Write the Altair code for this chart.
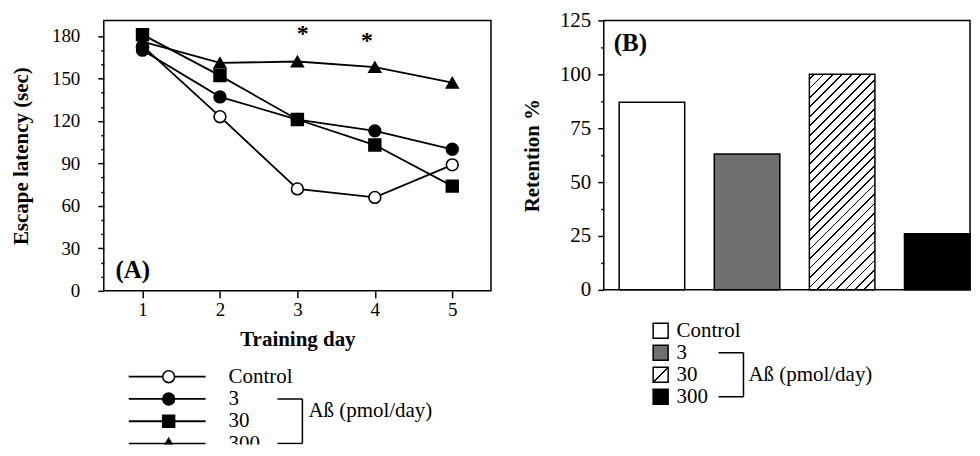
import altair as alt
import pandas as pd

# ---------------- data ----------------
days = [1, 2, 3, 4, 5]
groups = ["Control", "3", "30", "300"]
latency_control = [173, 123, 72, 66, 89]
latency_3 = [170, 137, 121, 113, 100]
latency_30 = [181, 152, 121, 103, 74]
latency_300 = [176, 161, 162, 158, 147]
star_days = [3.07, 3.9]
star_values = [181, 176]

retention = [87, 63, 100, 26]

legend_note = "Aß (pmol/day)"
FONT = "Liberation Serif"

# ---------------- tables ----------------
rowsA = []
for g, vals in zip(groups, [latency_control, latency_3, latency_30, latency_300]):
    for d, v in zip(days, vals):
        rowsA.append({"group": g, "day": d, "latency": v})
dfA = pd.DataFrame(rowsA)
dfStars = pd.DataFrame({"day": star_days, "latency": star_values, "t": ["*", "*"]})
dfLabelA = pd.DataFrame({"day": [0.65], "latency": [15], "t": ["(A)"]})
dfB = pd.DataFrame({"group": groups, "retention": retention})
dfLeg = pd.DataFrame({"group": groups})
dfBracket = pd.DataFrame({"start": ["3"], "end": ["300"]})

# ---------------- panel A ----------------
WA, HA = 388, 271
xA = alt.X("day:Q", scale=alt.Scale(domain=[0.5, 5.5], nice=False, zero=False),
           axis=alt.Axis(values=days, format="d", title="Training day", grid=False, domain=False,
                         tickSize=7, tickWidth=1.5, labelFontSize=19, labelPadding=3,
                         titleFontSize=21, titleFontWeight="bold", titlePadding=9,
                         labelAngle=0))
yA = alt.Y("latency:Q", scale=alt.Scale(domain=[0, 191], nice=False),
           axis=alt.Axis(values=list(range(0, 181, 10)),
                         labelExpr="datum.value % 30 === 0 ? datum.label : ''",
                         labelOverlap=False,
                         tickSize={"condition": {"test": "datum.value % 30 === 0", "value": 6}, "value": 3},
                         tickWidth=1.5, grid=False, domain=False, labelFontSize=19,
                         labelPadding=18, title="Escape latency (sec)", titleFontSize=21,
                         titleFontWeight="bold", titlePadding=20))

shape_scale = alt.Scale(domain=groups, range=["circle", "circle", "square", "triangle-up"])
fill_scale = alt.Scale(domain=groups, range=["white", "black", "black", "black"])
size_scale = alt.Scale(domain=groups, range=[140, 140, 150, 190])

linesA = alt.Chart(dfA).mark_line(color="black", strokeWidth=1.8).encode(
    x=xA, y=yA, detail="group:N", order="day:Q")
pointsA = alt.Chart(dfA).mark_point(stroke="black", strokeWidth=1.6, opacity=1, fillOpacity=1).encode(
    x=xA, y=yA,
    shape=alt.Shape("group:N", scale=shape_scale, legend=None),
    fill=alt.Fill("group:N", scale=fill_scale, legend=None),
    size=alt.Size("group:O", scale=size_scale, legend=None))
starsA = alt.Chart(dfStars).mark_text(fontSize=24, fontWeight="bold", color="black", dy=-0.5).encode(
    x=xA, y=yA, text="t:N")
labelA = alt.Chart(dfLabelA).mark_text(fontSize=25, fontWeight="bold", color="black",
                                       align="left", baseline="middle").encode(
    x=xA, y=yA, text="t:N")
panelA = alt.layer(linesA, pointsA, starsA, labelA).properties(width=WA, height=HA)

# ---------------- legend A ----------------
scaleLegA = alt.Scale(type="point", domain=groups, range=[12, 79], padding=0)
yLegA = alt.Y("group:N", sort=groups, scale=scaleLegA, axis=None)
legA_line = alt.Chart(dfLeg).mark_rule(color="black", strokeWidth=1.8, clip=True).encode(
    x=alt.value(25), x2=alt.value(102), y=yLegA)
legA_pts = alt.Chart(dfLeg).mark_point(stroke="black", strokeWidth=1.6, opacity=1,
                                       fillOpacity=1, clip=True).encode(
    x=alt.value(65), y=yLegA,
    shape=alt.Shape("group:N", scale=shape_scale, legend=None),
    fill=alt.Fill("group:N", scale=fill_scale, legend=None),
    size=alt.Size("group:O", scale=size_scale, legend=None))
legA_text = alt.Chart(dfLeg).mark_text(align="left", baseline="middle", fontSize=21,
                                       color="black", clip=True).encode(
    x=alt.value(125), y=yLegA, text="group:N")
legA_h = alt.Chart(dfLeg).transform_filter("datum.group === '3' || datum.group === '300'").mark_rule(
    color="black", strokeWidth=1.5, clip=True).encode(x=alt.value(174), x2=alt.value(199), y=yLegA)
legA_v = alt.Chart(dfBracket).mark_rule(color="black", strokeWidth=1.5, clip=True).encode(
    x=alt.value(199),
    y=alt.Y("start:N", scale=scaleLegA, axis=None),
    y2="end:N")
legA_note = alt.Chart(dfLeg).transform_filter("datum.group === '3'").mark_text(
    align="left", baseline="middle", fontSize=21, color="black", dy=12, clip=True).encode(
    x=alt.value(205), y=yLegA, text=alt.value(legend_note))
legendA = alt.layer(legA_line, legA_pts, legA_text, legA_h, legA_v, legA_note).properties(
    width=345, height=80, view=alt.ViewBackground(stroke=None))

# ---------------- panel B ----------------
WB, HB = 367, 270
PI, PO = 0.311, 0.081
bar_colors = ["white", "#707070", "black"]
xB = alt.X("group:N", sort=groups,
           scale=alt.Scale(domain=groups, paddingInner=PI, paddingOuter=PO, align=1), axis=None)
yB = alt.Y("retention:Q", scale=alt.Scale(domain=[0, 125], nice=False),
           axis=alt.Axis(values=[v * 12.5 for v in range(11)],
                         labelExpr="datum.value % 25 === 0 ? datum.label : ''",
                         labelOverlap=False,
                         tickSize={"condition": {"test": "datum.value % 25 === 0", "value": 6}, "value": 3},
                         tickWidth=1.5, grid=False, domain=False, labelFontSize=21,
                         labelPadding=7, title="Retention %", titleFontSize=21,
                         titleFontWeight="bold", titlePadding=17))


def hatch(w, h, spacing, lw):
    r = w / h
    k = (r + 1) / (r * r + 1)
    total = w + h
    stops = [alt.GradientStop(offset=0, color="white")]
    c = spacing / 2
    while c < total:
        a = max(0.0, (c - lw / 2) / total)
        b = min(1.0, (c + lw / 2) / total)
        stops += [alt.GradientStop(offset=a, color="white"),
                  alt.GradientStop(offset=a, color="black"),
                  alt.GradientStop(offset=b, color="black"),
                  alt.GradientStop(offset=b, color="white")]
        c += spacing
    stops.append(alt.GradientStop(offset=1, color="white"))
    return alt.Gradient(gradient="linear", stops=stops, x1=0, y1=0, x2=k * r, y2=k)


step = WB / (len(groups) - PI + 2 * PO)
bw = step * (1 - PI)
h30 = retention[2] / 125 * HB

barsB = alt.Chart(dfB).transform_filter("datum.group !== '30'").mark_bar(
    stroke="black", strokeWidth=1.5).encode(
    x=xB, y=yB,
    fill=alt.Fill("group:N", scale=alt.Scale(domain=["Control", "3", "300"],
                                             range=bar_colors), legend=None))
bar30 = alt.Chart(dfB).transform_filter("datum.group === '30'").mark_bar(
    stroke="black", strokeWidth=1.5, fill=hatch(bw, h30, 9.5, 1.8)).encode(
    x=xB, y=yB)
labelB = alt.Chart(pd.DataFrame({"t": ["(B)"]})).mark_text(
    fontSize=25, fontWeight="bold", color="black", align="left", baseline="middle").encode(
    x=alt.value(10), y=alt.value(23), text="t:N")
panelB = alt.layer(barsB, bar30, labelB).properties(width=WB, height=HB)

# ---------------- legend B ----------------
scaleLegB = alt.Scale(type="point", domain=groups, range=[15, 81], padding=0)
yLegB = alt.Y("group:N", sort=groups, scale=scaleLegB, axis=None)
legB_sw = alt.Chart(dfLeg).transform_filter("datum.group !== '30'").mark_square(
    size=225, stroke="black", strokeWidth=1.5, opacity=1, fillOpacity=1, clip=True).encode(
    x=alt.value(57), y=yLegB,
    fill=alt.Fill("group:N", scale=alt.Scale(domain=["Control", "3", "300"],
                                             range=bar_colors), legend=None))
legB_sw30 = alt.Chart(dfLeg).transform_filter("datum.group === '30'").mark_square(
    size=225, stroke="black", strokeWidth=1.5, opacity=1, fill=hatch(15, 15, 30, 2.4), clip=True).encode(
    x=alt.value(57), y=yLegB)
legB_text = alt.Chart(dfLeg).mark_text(align="left", baseline="middle", fontSize=21,
                                       color="black", clip=True).encode(
    x=alt.value(73), y=yLegB, text="group:N")
legB_h = alt.Chart(dfLeg).transform_filter("datum.group === '3' || datum.group === '300'").mark_rule(
    color="black", strokeWidth=1.5, clip=True).encode(x=alt.value(115), x2=alt.value(140), y=yLegB)
legB_v = alt.Chart(dfBracket).mark_rule(color="black", strokeWidth=1.5, clip=True).encode(
    x=alt.value(140),
    y=alt.Y("start:N", scale=scaleLegB, axis=None),
    y2="end:N")
legB_note = alt.Chart(dfLeg).transform_filter("datum.group === '30'").mark_text(
    align="left", baseline="middle", fontSize=21, color="black", clip=True).encode(
    x=alt.value(145), y=yLegB, text=alt.value(legend_note))
legendB = alt.layer(legB_sw, legB_sw30, legB_text, legB_h, legB_v, legB_note).properties(
    width=300, height=95, view=alt.ViewBackground(stroke=None))

# ---------------- compose ----------------
colA = alt.vconcat(panelA, legendA, spacing=14)
colB = alt.vconcat(panelB, legendB, spacing=15)
chart = alt.hconcat(colA, colB, spacing=28).resolve_scale(
    fill="independent", shape="independent", size="independent"
).properties(
    padding={"left": 1, "top": 0, "right": 0, "bottom": 0},
    background="white",
).configure(font=FONT).configure_view(
    stroke="black", strokeWidth=1.5
).configure_axis(
    labelColor="black", titleColor="black", tickColor="black", labelFont=FONT, titleFont=FONT
).configure_text(font=FONT)

chart.save("out.html", embed_options={"renderer": "svg", "actions": False})
